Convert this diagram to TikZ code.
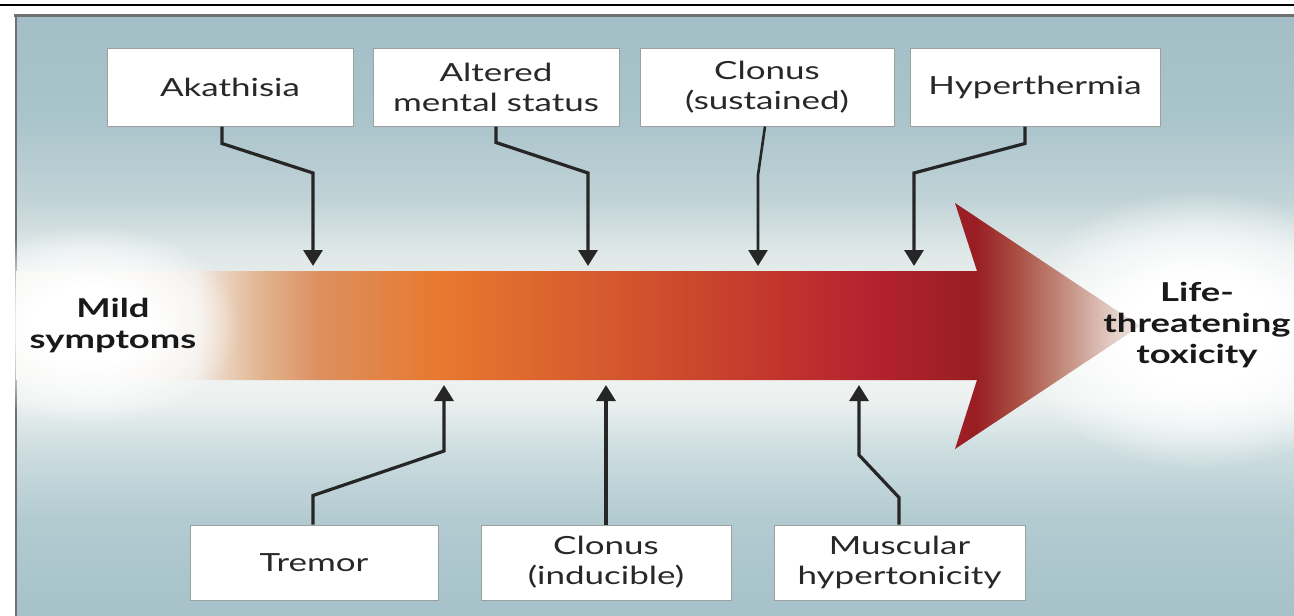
\documentclass[tikz,border=0pt]{standalone}
\usepackage{fontspec}
\setmainfont{Lato}[FakeStretch=1.4]
\usetikzlibrary{arrows.meta,fadings}

\definecolor{bg0}{RGB}{166,193,201}
\definecolor{bg1}{RGB}{178,203,209}
\definecolor{bg2}{RGB}{205,221,224}
\definecolor{bg3}{RGB}{236,241,240}
\definecolor{bg4}{RGB}{243,245,243}
\definecolor{bg5}{RGB}{222,231,231}
\definecolor{bg6}{RGB}{193,211,215}
\definecolor{bg7}{RGB}{170,196,203}
\definecolor{bg8}{RGB}{163,190,198}

\definecolor{ar0}{RGB}{241,240,236}
\definecolor{ar1}{RGB}{240,234,228}
\definecolor{ar2}{RGB}{226,181,144}
\definecolor{ar3}{RGB}{220,144,94}
\definecolor{ar4}{RGB}{232,120,47}
\definecolor{ar5}{RGB}{214,90,46}
\definecolor{ar6}{RGB}{196,57,44}
\definecolor{ar7}{RGB}{181,34,47}
\definecolor{ar8}{RGB}{152,30,36}
\definecolor{ar9}{RGB}{166,70,60}
\definecolor{ar10}{RGB}{192,134,120}
\definecolor{ar11}{RGB}{226,204,196}
\definecolor{ar12}{RGB}{238,230,226}

\definecolor{txt}{RGB}{40,40,40}
\definecolor{frame}{RGB}{112,112,112}

\pgfdeclareverticalshading{bgshade}{100bp}{color(0bp)=(bg0); color(25bp)=(bg0); color(33bp)=(bg1); color(38.85bp)=(bg2); color(43bp)=(bg3); color(49.25bp)=(bg4); color(55.5bp)=(bg5); color(59.65bp)=(bg6); color(66.35bp)=(bg7); color(75bp)=(bg8); color(100bp)=(bg8)}

\pgfdeclarehorizontalshading{arrowsh}{100bp}{color(0bp)=(ar0); color(25bp)=(ar0); color(32.96bp)=(ar1); color(35.85bp)=(ar2); color(38.5bp)=(ar3); color(43.9bp)=(ar4); color(51bp)=(ar5); color(58.1bp)=(ar6); color(63bp)=(ar7); color(67.7bp)=(ar8); color(69.2bp)=(ar9); color(71.4bp)=(ar10); color(73.7bp)=(ar11); color(75bp)=(ar12); color(100bp)=(ar12)}

\pgfdeclareradialshading{glowsh}{\pgfpointorigin}{color(0bp)=(white); color(10bp)=(white); color(18bp)=(black!45!white); color(25bp)=(black); color(50bp)=(black)}
\pgfdeclarefading{glow}{\pgfuseshading{glowsh}}

\tikzset{
  box/.style={draw=gray!75, line width=1pt, fill=white, inner sep=0pt, align=center,
    minimum height=78pt, text=txt, font=\fontsize{25}{30}\selectfont},
  bbox/.style={box, minimum height=75pt},
  conn/.style={line width=3.2pt, draw=black!85, line join=miter,
    -{Triangle[width=19pt,length=16pt]}},
  endtxt/.style={align=center, text=black!90, font=\bfseries\fontsize{26}{31}\selectfont},
  glowfill/.style={fill=white, path fading=glow}
}

\begin{document}
\begin{tikzpicture}[x=1pt,y=-1pt]
\useasboundingbox (0,0) rectangle (1294,616);
\fill[white] (0,0) rectangle (1294,616);
\draw[black, line width=1.5pt] (0,5) -- (1294,5);

% panel background
\shade[shading=bgshade] (16,16) rectangle (1294,616);
\fill[glowfill] (1200,330) ellipse [x radius=190, y radius=140];
\draw[frame, line width=3pt] (14,15.5) -- (1294,15.5);
\draw[frame, line width=2pt] (16,15) -- (16,616);

% main arrow
\shade[shading=arrowsh] (16,271) -- (977,271) -- (955,203) -- (1140,326)
  -- (955,449) -- (977,380) -- (16,380) -- cycle;
\fill[glowfill] (90,325) ellipse [x radius=150, y radius=100];

% tips on the main arrow
\coordinate (t1) at (313,266);
\coordinate (t2) at (588,266);
\coordinate (t3) at (758,266);
\coordinate (t4) at (914,266);
\coordinate (b1) at (444,385);
\coordinate (b2) at (606,385);
\coordinate (b3) at (859,385);

% top boxes
\node[box, minimum width=246pt] (akat)  at (230,87)  {Akathisia};
\node[box, minimum width=246pt] (alt)   at (496,87)  {Altered\\mental status};
\node[box, minimum width=254pt] (clsus) at (767,87)  {Clonus\\(sustained)};
\node[box, minimum width=250pt] (hyper) at (1035,87) {Hyperthermia};

% bottom boxes
\node[bbox, minimum width=248pt] (tremor) at (314,562.5)   {Tremor};
\node[bbox, minimum width=250pt] (clind)  at (606,562.5)   {Clonus\\(inducible)};
\node[bbox, minimum width=251pt] (musc)   at (899.5,562.5) {Muscular\\hypertonicity};

% connectors
\draw[conn] ([xshift=-8pt]akat.south) -- ++(0,17) -- (313,173) -- (t1);
\draw[conn] (alt.south) -- ++(0,16) -- (588,173) -- (t2);
\draw[conn, line width=2.6pt] ([xshift=-2pt]clsus.south) -- (758,175) -- (t3);
\draw[conn] ([xshift=-10pt]hyper.south) -- ++(0,17) -- (914,173) -- (t4);
\draw[conn] ([xshift=-1pt]tremor.north) -- ++(0,-29) -- (444,451) -- (b1);
\draw[conn] (clind.north) -- (b2);
\draw[conn] ([xshift=-0.5pt]musc.north) -- ++(0,-27) -- (859,455) -- (b3);

% end labels
\node[endtxt] (mild) at (113,326) {Mild\\symptoms};
\node[endtxt] (life) at (1197,325) {Life-\\threatening\\toxicity};
\end{tikzpicture}
\end{document}
